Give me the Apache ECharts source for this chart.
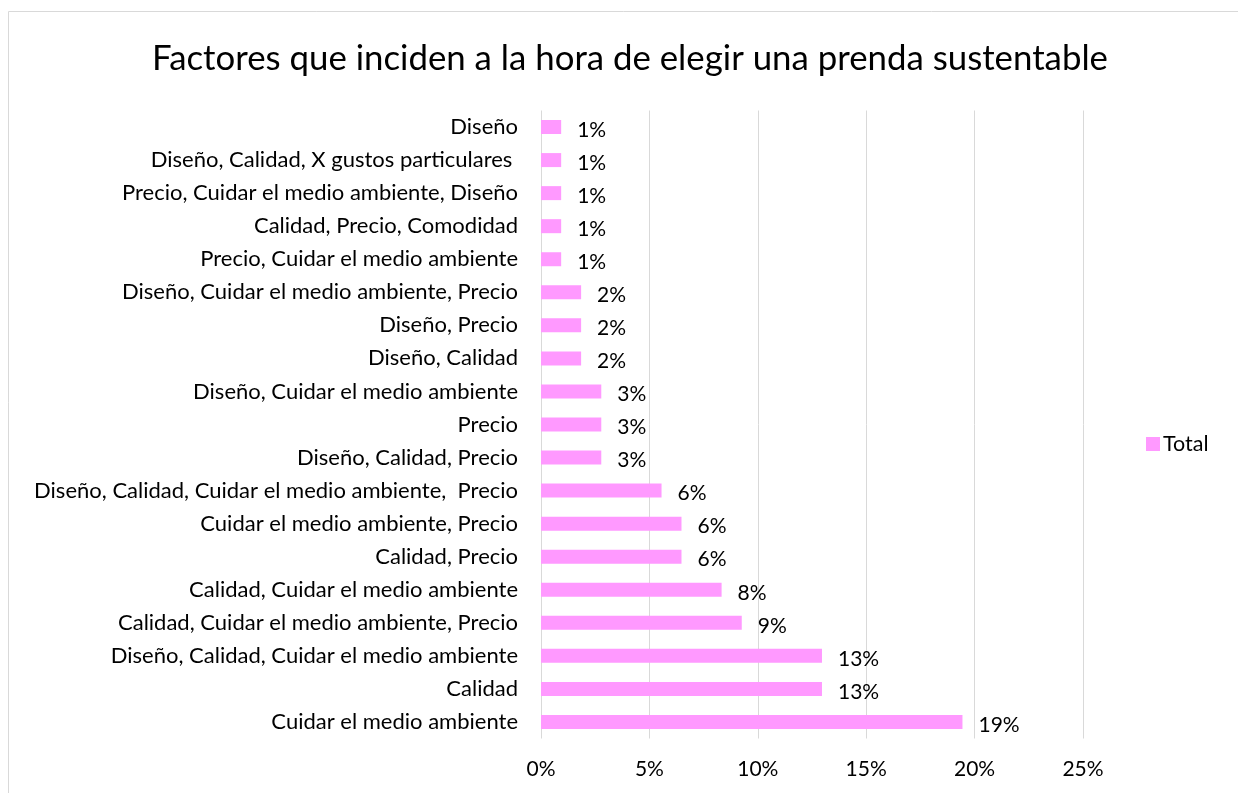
<!DOCTYPE html>
<html><head><meta charset="utf-8">
<script src="https://cdn.jsdelivr.net/npm/echarts@6/dist/echarts.min.js"></script>
<style>html,body{margin:0;padding:0;background:#fff}#c{width:1238px;height:793px}</style>
</head><body><div id="c"></div>
<script>
const categories = [
  'Cuidar el medio ambiente',
  'Calidad',
  'Diseño, Calidad, Cuidar el medio ambiente',
  'Calidad, Cuidar el medio ambiente, Precio',
  'Calidad, Cuidar el medio ambiente',
  'Calidad, Precio',
  'Cuidar el medio ambiente, Precio',
  'Diseño, Calidad, Cuidar el medio ambiente,  Precio',
  'Diseño, Calidad, Precio',
  'Precio',
  'Diseño, Cuidar el medio ambiente',
  'Diseño, Calidad',
  'Diseño, Precio',
  'Diseño, Cuidar el medio ambiente, Precio',
  'Precio, Cuidar el medio ambiente',
  'Calidad, Precio, Comodidad',
  'Precio, Cuidar el medio ambiente, Diseño',
  'Diseño, Calidad, X gustos particulares ',
  'Diseño'
];
const totalValues = [19.44, 12.96, 12.96, 9.26, 8.33, 6.48, 6.48, 5.56, 2.78, 2.78, 2.78, 1.85, 1.85, 1.85, 0.93, 0.93, 0.93, 0.93, 0.93];
const xTicks = [0, 5, 10, 15, 20, 25];
const FONT = 'Lato';
const chart = echarts.init(document.getElementById('c'));
chart.setOption({
  animation: false,
  textStyle: { fontFamily: FONT },
  title: {
    text: 'Factores que inciden a la hora de elegir una prenda sustentable',
    left: 147, top: 36,
    textStyle: { fontFamily: FONT, fontSize: 34.8, fontWeight: 'normal', color: '#000' }
  },
  graphic: [{
    type: 'rect', shape: { x: 8.5, y: 11.5, width: 1300, height: 900 },
    style: { fill: 'none', stroke: '#d9d9d9', lineWidth: 1 }, silent: true, z: -1
  }],
  legend: {
    data: ['Total'], orient: 'vertical', left: 1141, top: 428,
    itemWidth: 14, itemHeight: 14, itemGap: 5, icon: 'rect',
    textStyle: { fontFamily: FONT, fontSize: 21.5, color: '#000', padding: [0, 0, 0, -2] }
  },
  grid: { left: 541, top: 110.5, width: 542, height: 628, containLabel: false },
  xAxis: {
    type: 'value', min: 0, max: 25, interval: 5,
    axisLine: { show: false }, axisTick: { show: false },
    splitLine: { lineStyle: { color: '#d9d9d9', width: 1 } },
    axisLabel: { formatter: v => xTicks.includes(v) ? v + '%' : '', fontSize: 21, color: '#000', margin: 20, fontFamily: FONT }
  },
  yAxis: {
    type: 'category', data: categories,
    axisLine: { show: false }, axisTick: { show: false },
    axisLabel: { fontSize: 22, color: '#000', margin: 23, fontFamily: FONT }
  },
  series: [{
    name: 'Total', type: 'bar', data: totalValues, barWidth: 14,
    itemStyle: { color: '#ff99ff' },
    label: {
      show: true, position: 'right', distance: 16, offset: [0, 3],
      formatter: p => Math.round(p.value) + '%',
      fontSize: 21, color: '#000', fontFamily: FONT
    }
  }]
});
</script></body></html>
